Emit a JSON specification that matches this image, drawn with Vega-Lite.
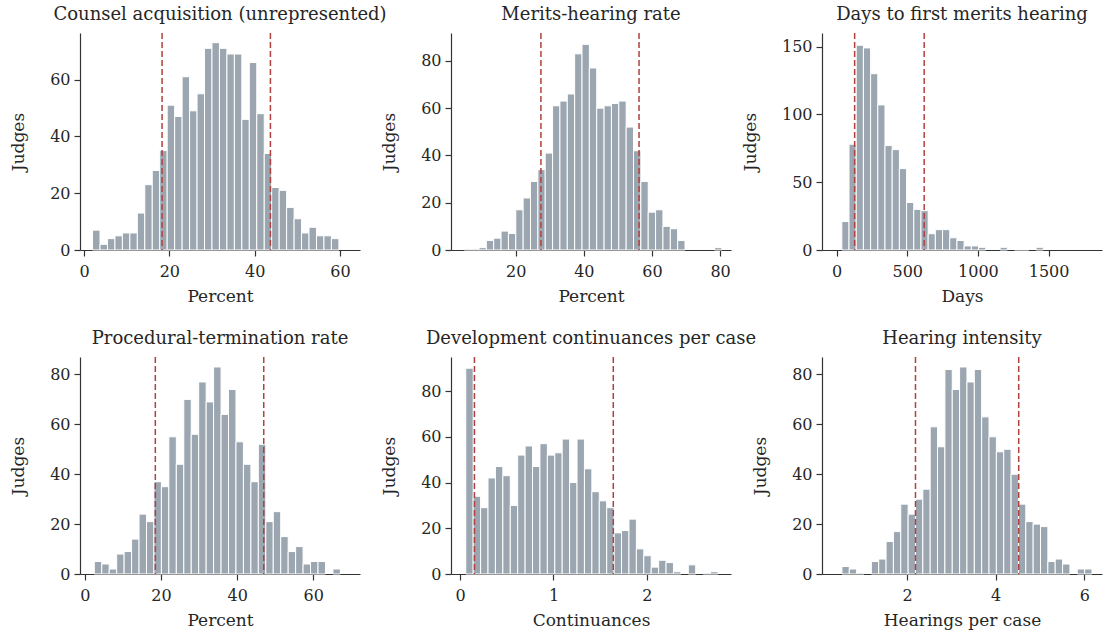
{
  "$schema": "https://vega.github.io/schema/vega-lite/v6.json",
  "padding": {"left": 9, "top": 6, "right": 2, "bottom": 2},
  "columns": 3,
  "bounds": "flush",
  "spacing": {"row": 107, "column": 91},
  "resolve": {"scale": {"x": "independent", "y": "independent"}},
  "config": {
    "font": "DejaVu Serif",
    "view": {"stroke": null},
    "axis": {"grid": false, "domainColor": "#333333", "tickColor": "#333333", "labelColor": "#262626", "titleColor": "#262626", "labelFont": "DejaVu Serif", "titleFont": "DejaVu Serif", "labelFontSize": 16, "titleFontSize": 17, "titleFontWeight": "normal", "tickSize": 6, "domainWidth": 1.2, "tickWidth": 1.2, "labelPadding": 4, "labelFlush": false, "format": "d"},
    "axisY": {"titlePadding": 22},
    "axisX": {"titlePadding": 9, "labelPadding": 7},
    "title": {"font": "DejaVu Serif", "fontSize": 18, "fontWeight": "normal", "color": "#262626", "offset": 8}
  },
  "datasets": {
    "bins": [
      {"p":1,"x0":2.0,"x1":3.75,"n":7},{"p":1,"x0":3.75,"x1":5.5,"n":2},{"p":1,"x0":5.5,"x1":7.25,"n":4},{"p":1,"x0":7.25,"x1":9.0,"n":5},{"p":1,"x0":9.0,"x1":10.75,"n":6},{"p":1,"x0":10.75,"x1":12.5,"n":6},{"p":1,"x0":12.5,"x1":14.25,"n":13},{"p":1,"x0":14.25,"x1":16.0,"n":23},{"p":1,"x0":16.0,"x1":17.75,"n":28},{"p":1,"x0":17.75,"x1":19.5,"n":35},{"p":1,"x0":19.5,"x1":21.25,"n":51},{"p":1,"x0":21.25,"x1":23.0,"n":47},{"p":1,"x0":23.0,"x1":24.75,"n":61},{"p":1,"x0":24.75,"x1":26.5,"n":49},{"p":1,"x0":26.5,"x1":28.25,"n":55},{"p":1,"x0":28.25,"x1":30.0,"n":71},{"p":1,"x0":30.0,"x1":31.75,"n":73},{"p":1,"x0":31.75,"x1":33.5,"n":71},{"p":1,"x0":33.5,"x1":35.25,"n":69},{"p":1,"x0":35.25,"x1":37.0,"n":69},{"p":1,"x0":37.0,"x1":38.75,"n":46},{"p":1,"x0":38.75,"x1":40.5,"n":66},{"p":1,"x0":40.5,"x1":42.25,"n":48},{"p":1,"x0":42.25,"x1":44.0,"n":34},{"p":1,"x0":44.0,"x1":45.75,"n":22},{"p":1,"x0":45.75,"x1":47.5,"n":21},{"p":1,"x0":47.5,"x1":49.25,"n":15},{"p":1,"x0":49.25,"x1":51.0,"n":11},{"p":1,"x0":51.0,"x1":52.75,"n":6},{"p":1,"x0":52.75,"x1":54.5,"n":8},{"p":1,"x0":54.5,"x1":56.25,"n":5},{"p":1,"x0":56.25,"x1":58.0,"n":5},{"p":1,"x0":58.0,"x1":59.75,"n":4},
      {"p":2,"x0":4.9,"x1":7.06,"n":0.4},{"p":2,"x0":7.06,"x1":9.22,"n":0.4},{"p":2,"x0":9.22,"x1":11.38,"n":1},{"p":2,"x0":11.38,"x1":13.54,"n":4},{"p":2,"x0":13.54,"x1":15.7,"n":5},{"p":2,"x0":15.7,"x1":17.86,"n":8},{"p":2,"x0":17.86,"x1":20.02,"n":7},{"p":2,"x0":20.02,"x1":22.18,"n":17},{"p":2,"x0":22.18,"x1":24.34,"n":22},{"p":2,"x0":24.34,"x1":26.5,"n":29},{"p":2,"x0":26.5,"x1":28.66,"n":34},{"p":2,"x0":28.66,"x1":30.82,"n":41},{"p":2,"x0":30.82,"x1":32.98,"n":61},{"p":2,"x0":32.98,"x1":35.14,"n":63},{"p":2,"x0":35.14,"x1":37.3,"n":66},{"p":2,"x0":37.3,"x1":39.46,"n":83},{"p":2,"x0":39.46,"x1":41.62,"n":87},{"p":2,"x0":41.62,"x1":43.78,"n":77},{"p":2,"x0":43.78,"x1":45.94,"n":60},{"p":2,"x0":45.94,"x1":48.1,"n":61},{"p":2,"x0":48.1,"x1":50.26,"n":62},{"p":2,"x0":50.26,"x1":52.42,"n":63},{"p":2,"x0":52.42,"x1":54.58,"n":52},{"p":2,"x0":54.58,"x1":56.74,"n":42},{"p":2,"x0":56.74,"x1":58.9,"n":29},{"p":2,"x0":58.9,"x1":61.06,"n":16},{"p":2,"x0":61.06,"x1":63.22,"n":17},{"p":2,"x0":63.22,"x1":65.38,"n":10},{"p":2,"x0":65.38,"x1":67.54,"n":9},{"p":2,"x0":67.54,"x1":69.7,"n":4},{"p":2,"x0":78.34,"x1":80.5,"n":1},
      {"p":3,"x0":37.3,"x1":88.2,"n":21},{"p":3,"x0":88.2,"x1":139.1,"n":78},{"p":3,"x0":139.1,"x1":190.0,"n":151},{"p":3,"x0":190.0,"x1":240.9,"n":149},{"p":3,"x0":240.9,"x1":291.8,"n":130},{"p":3,"x0":291.8,"x1":342.7,"n":107},{"p":3,"x0":342.7,"x1":393.6,"n":77},{"p":3,"x0":393.6,"x1":444.5,"n":74},{"p":3,"x0":444.5,"x1":495.4,"n":60},{"p":3,"x0":495.4,"x1":546.3,"n":35},{"p":3,"x0":546.3,"x1":597.2,"n":30},{"p":3,"x0":597.2,"x1":648.1,"n":29},{"p":3,"x0":648.1,"x1":699.0,"n":12},{"p":3,"x0":699.0,"x1":749.9,"n":15},{"p":3,"x0":749.9,"x1":800.8,"n":15},{"p":3,"x0":800.8,"x1":851.7,"n":9},{"p":3,"x0":851.7,"x1":902.6,"n":7},{"p":3,"x0":902.6,"x1":953.5,"n":3},{"p":3,"x0":953.5,"x1":1004.4,"n":3},{"p":3,"x0":1004.4,"x1":1055.3,"n":2},{"p":3,"x0":1157.1,"x1":1208.0,"n":2},{"p":3,"x0":1258.9,"x1":1309.8,"n":0.4},{"p":3,"x0":1309.8,"x1":1360.7,"n":0.4},{"p":3,"x0":1411.6,"x1":1462.5,"n":2},
      {"p":4,"x0":2.46,"x1":4.42,"n":5},{"p":4,"x0":4.42,"x1":6.38,"n":4},{"p":4,"x0":6.38,"x1":8.34,"n":2},{"p":4,"x0":8.34,"x1":10.3,"n":8},{"p":4,"x0":10.3,"x1":12.26,"n":9},{"p":4,"x0":12.26,"x1":14.22,"n":14},{"p":4,"x0":14.22,"x1":16.18,"n":24},{"p":4,"x0":16.18,"x1":18.14,"n":21},{"p":4,"x0":18.14,"x1":20.1,"n":37},{"p":4,"x0":20.1,"x1":22.06,"n":35},{"p":4,"x0":22.06,"x1":24.02,"n":55},{"p":4,"x0":24.02,"x1":25.98,"n":44},{"p":4,"x0":25.98,"x1":27.94,"n":70},{"p":4,"x0":27.94,"x1":29.9,"n":56},{"p":4,"x0":29.9,"x1":31.86,"n":77},{"p":4,"x0":31.86,"x1":33.82,"n":69},{"p":4,"x0":33.82,"x1":35.78,"n":83},{"p":4,"x0":35.78,"x1":37.74,"n":64},{"p":4,"x0":37.74,"x1":39.7,"n":74},{"p":4,"x0":39.7,"x1":41.66,"n":53},{"p":4,"x0":41.66,"x1":43.62,"n":44},{"p":4,"x0":43.62,"x1":45.58,"n":37},{"p":4,"x0":45.58,"x1":47.54,"n":52},{"p":4,"x0":47.54,"x1":49.5,"n":21},{"p":4,"x0":49.5,"x1":51.46,"n":25},{"p":4,"x0":51.46,"x1":53.42,"n":15},{"p":4,"x0":53.42,"x1":55.38,"n":9},{"p":4,"x0":55.38,"x1":57.34,"n":11},{"p":4,"x0":57.34,"x1":59.3,"n":4},{"p":4,"x0":59.3,"x1":61.26,"n":5},{"p":4,"x0":61.26,"x1":63.22,"n":5},{"p":4,"x0":65.18,"x1":67.14,"n":2},
      {"p":5,"x0":0.061,"x1":0.1404,"n":90},{"p":5,"x0":0.1404,"x1":0.2198,"n":34},{"p":5,"x0":0.2198,"x1":0.2992,"n":29},{"p":5,"x0":0.2992,"x1":0.3786,"n":42},{"p":5,"x0":0.3786,"x1":0.458,"n":47},{"p":5,"x0":0.458,"x1":0.5374,"n":43},{"p":5,"x0":0.5374,"x1":0.6168,"n":30},{"p":5,"x0":0.6168,"x1":0.6962,"n":52},{"p":5,"x0":0.6962,"x1":0.7756,"n":56},{"p":5,"x0":0.7756,"x1":0.855,"n":47},{"p":5,"x0":0.855,"x1":0.9344,"n":57},{"p":5,"x0":0.9344,"x1":1.0138,"n":52},{"p":5,"x0":1.0138,"x1":1.0932,"n":53},{"p":5,"x0":1.0932,"x1":1.1726,"n":59},{"p":5,"x0":1.1726,"x1":1.252,"n":40},{"p":5,"x0":1.252,"x1":1.3314,"n":59},{"p":5,"x0":1.3314,"x1":1.4108,"n":46},{"p":5,"x0":1.4108,"x1":1.4902,"n":36},{"p":5,"x0":1.4902,"x1":1.5696,"n":32},{"p":5,"x0":1.5696,"x1":1.649,"n":29},{"p":5,"x0":1.649,"x1":1.7284,"n":18},{"p":5,"x0":1.7284,"x1":1.8078,"n":19},{"p":5,"x0":1.8078,"x1":1.8872,"n":24},{"p":5,"x0":1.8872,"x1":1.9666,"n":11},{"p":5,"x0":1.9666,"x1":2.046,"n":8},{"p":5,"x0":2.046,"x1":2.1254,"n":3},{"p":5,"x0":2.1254,"x1":2.2048,"n":6},{"p":5,"x0":2.2048,"x1":2.2842,"n":5},{"p":5,"x0":2.2842,"x1":2.3636,"n":1},{"p":5,"x0":2.443,"x1":2.5224,"n":4},{"p":5,"x0":2.6018,"x1":2.6812,"n":0.4},{"p":5,"x0":2.6812,"x1":2.7606,"n":1},
      {"p":6,"x0":0.53,"x1":0.696,"n":3},{"p":6,"x0":0.696,"x1":0.862,"n":2},{"p":6,"x0":0.862,"x1":1.028,"n":0.4},{"p":6,"x0":1.194,"x1":1.36,"n":5},{"p":6,"x0":1.36,"x1":1.526,"n":6},{"p":6,"x0":1.526,"x1":1.692,"n":13},{"p":6,"x0":1.692,"x1":1.858,"n":17},{"p":6,"x0":1.858,"x1":2.024,"n":28},{"p":6,"x0":2.024,"x1":2.19,"n":24},{"p":6,"x0":2.19,"x1":2.356,"n":30},{"p":6,"x0":2.356,"x1":2.522,"n":34},{"p":6,"x0":2.522,"x1":2.688,"n":59},{"p":6,"x0":2.688,"x1":2.854,"n":51},{"p":6,"x0":2.854,"x1":3.02,"n":82},{"p":6,"x0":3.02,"x1":3.186,"n":74},{"p":6,"x0":3.186,"x1":3.352,"n":83},{"p":6,"x0":3.352,"x1":3.518,"n":77},{"p":6,"x0":3.518,"x1":3.684,"n":82},{"p":6,"x0":3.684,"x1":3.85,"n":63},{"p":6,"x0":3.85,"x1":4.016,"n":55},{"p":6,"x0":4.016,"x1":4.182,"n":49},{"p":6,"x0":4.182,"x1":4.348,"n":50},{"p":6,"x0":4.348,"x1":4.514,"n":40},{"p":6,"x0":4.514,"x1":4.68,"n":28},{"p":6,"x0":4.68,"x1":4.846,"n":21},{"p":6,"x0":4.846,"x1":5.012,"n":20},{"p":6,"x0":5.012,"x1":5.178,"n":19},{"p":6,"x0":5.178,"x1":5.344,"n":5},{"p":6,"x0":5.344,"x1":5.51,"n":6},{"p":6,"x0":5.51,"x1":5.676,"n":4},{"p":6,"x0":5.842,"x1":6.008,"n":2},{"p":6,"x0":6.008,"x1":6.174,"n":2}
    ],
    "lines": [
      {"p":1,"v":18.3},{"p":1,"v":43.7},
      {"p":2,"v":27.4},{"p":2,"v":56.2},
      {"p":3,"v":128},{"p":3,"v":620},
      {"p":4,"v":18.5},{"p":4,"v":47.0},
      {"p":5,"v":0.154},{"p":5,"v":1.64},
      {"p":6,"v":2.19},{"p":6,"v":4.52}
    ]
  },
  "concat": [
    {
      "width": 280, "height": 217,
      "title": "Counsel acquisition (unrepresented)",
      "layer": [
        {"data": {"name": "bins"}, "transform": [{"filter": "datum.p == 1"}],
         "mark": {"type": "rect", "color": "#9ba6b1", "stroke": "white", "strokeWidth": 1},
         "encoding": {
           "x": {"field": "x0", "type": "quantitative", "title": "Percent", "scale": {"domain": [-0.94, 64.7], "nice": false, "zero": false}, "axis": {"values": [0, 20, 40, 60]}},
           "x2": {"field": "x1"},
           "y": {"field": "n", "type": "quantitative", "title": "Judges", "scale": {"domain": [0, 76.4], "nice": false}, "axis": {"values": [0, 20, 40, 60]}},
           "y2": {"datum": 0}
         }},
        {"data": {"name": "lines"}, "transform": [{"filter": "datum.p == 1"}],
         "mark": {"type": "rule", "color": "#b0413e", "strokeDash": [6, 3], "strokeWidth": 1.5},
         "encoding": {"x": {"field": "v", "type": "quantitative", "title": "Percent"}}}
      ]
    },
    {
      "width": 280, "height": 217,
      "title": "Merits-hearing rate",
      "layer": [
        {"data": {"name": "bins"}, "transform": [{"filter": "datum.p == 2"}],
         "mark": {"type": "rect", "color": "#9ba6b1", "stroke": "white", "strokeWidth": 1},
         "encoding": {
           "x": {"field": "x0", "type": "quantitative", "title": "Percent", "scale": {"domain": [1.0, 83.2], "nice": false, "zero": false}, "axis": {"values": [20, 40, 60, 80]}},
           "x2": {"field": "x1"},
           "y": {"field": "n", "type": "quantitative", "title": "Judges", "scale": {"domain": [0, 91.8], "nice": false}, "axis": {"values": [0, 20, 40, 60, 80]}},
           "y2": {"datum": 0}
         }},
        {"data": {"name": "lines"}, "transform": [{"filter": "datum.p == 2"}],
         "mark": {"type": "rule", "color": "#b0413e", "strokeDash": [6, 3], "strokeWidth": 1.5},
         "encoding": {"x": {"field": "v", "type": "quantitative", "title": "Percent"}}}
      ]
    },
    {
      "width": 280, "height": 217,
      "title": "Days to first merits hearing",
      "layer": [
        {"data": {"name": "bins"}, "transform": [{"filter": "datum.p == 3"}],
         "mark": {"type": "rect", "color": "#9ba6b1", "stroke": "white", "strokeWidth": 1},
         "encoding": {
           "x": {"field": "x0", "type": "quantitative", "title": "Days", "scale": {"domain": [-103, 1878], "nice": false, "zero": false}, "axis": {"values": [0, 500, 1000, 1500]}},
           "x2": {"field": "x1"},
           "y": {"field": "n", "type": "quantitative", "title": "Judges", "scale": {"domain": [0, 160], "nice": false}, "axis": {"values": [0, 50, 100, 150]}},
           "y2": {"datum": 0}
         }},
        {"data": {"name": "lines"}, "transform": [{"filter": "datum.p == 3"}],
         "mark": {"type": "rule", "color": "#b0413e", "strokeDash": [6, 3], "strokeWidth": 1.5},
         "encoding": {"x": {"field": "v", "type": "quantitative", "title": "Days"}}}
      ]
    },
    {
      "width": 280, "height": 217,
      "title": "Procedural-termination rate",
      "layer": [
        {"data": {"name": "bins"}, "transform": [{"filter": "datum.p == 4"}],
         "mark": {"type": "rect", "color": "#9ba6b1", "stroke": "white", "strokeWidth": 1},
         "encoding": {
           "x": {"field": "x0", "type": "quantitative", "title": "Percent", "scale": {"domain": [-1.3, 72.3], "nice": false, "zero": false}, "axis": {"values": [0, 20, 40, 60]}},
           "x2": {"field": "x1"},
           "y": {"field": "n", "type": "quantitative", "title": "Judges", "scale": {"domain": [0, 87], "nice": false}, "axis": {"values": [0, 20, 40, 60, 80]}},
           "y2": {"datum": 0}
         }},
        {"data": {"name": "lines"}, "transform": [{"filter": "datum.p == 4"}],
         "mark": {"type": "rule", "color": "#b0413e", "strokeDash": [6, 3], "strokeWidth": 1.5},
         "encoding": {"x": {"field": "v", "type": "quantitative", "title": "Percent"}}}
      ]
    },
    {
      "width": 280, "height": 217,
      "title": "Development continuances per case",
      "layer": [
        {"data": {"name": "bins"}, "transform": [{"filter": "datum.p == 5"}],
         "mark": {"type": "rect", "color": "#9ba6b1", "stroke": "white", "strokeWidth": 1},
         "encoding": {
           "x": {"field": "x0", "type": "quantitative", "title": "Continuances", "scale": {"domain": [-0.097, 2.9], "nice": false, "zero": false}, "axis": {"values": [0, 1, 2]}},
           "x2": {"field": "x1"},
           "y": {"field": "n", "type": "quantitative", "title": "Judges", "scale": {"domain": [0, 94.9], "nice": false}, "axis": {"values": [0, 20, 40, 60, 80]}},
           "y2": {"datum": 0}
         }},
        {"data": {"name": "lines"}, "transform": [{"filter": "datum.p == 5"}],
         "mark": {"type": "rule", "color": "#b0413e", "strokeDash": [6, 3], "strokeWidth": 1.5},
         "encoding": {"x": {"field": "v", "type": "quantitative", "title": "Continuances"}}}
      ]
    },
    {
      "width": 280, "height": 217,
      "title": "Hearing intensity",
      "layer": [
        {"data": {"name": "bins"}, "transform": [{"filter": "datum.p == 6"}],
         "mark": {"type": "rect", "color": "#9ba6b1", "stroke": "white", "strokeWidth": 1},
         "encoding": {
           "x": {"field": "x0", "type": "quantitative", "title": "Hearings per case", "scale": {"domain": [0.08, 6.4], "nice": false, "zero": false}, "axis": {"values": [2, 4, 6]}},
           "x2": {"field": "x1"},
           "y": {"field": "n", "type": "quantitative", "title": "Judges", "scale": {"domain": [0, 87], "nice": false}, "axis": {"values": [0, 20, 40, 60, 80]}},
           "y2": {"datum": 0}
         }},
        {"data": {"name": "lines"}, "transform": [{"filter": "datum.p == 6"}],
         "mark": {"type": "rule", "color": "#b0413e", "strokeDash": [6, 3], "strokeWidth": 1.5},
         "encoding": {"x": {"field": "v", "type": "quantitative", "title": "Hearings per case"}}}
      ]
    }
  ]
}
